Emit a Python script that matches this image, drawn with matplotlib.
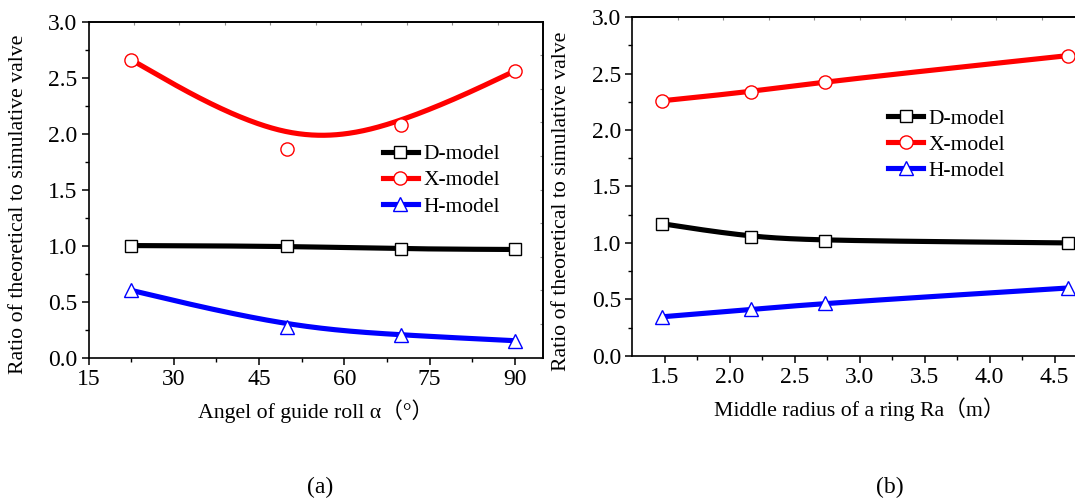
import numpy as np
import matplotlib
matplotlib.use("Agg")
import matplotlib.pyplot as plt
from matplotlib.lines import Line2D

# ---- data -------------------------------------------------------------
angle = [22.5, 50, 70, 90]
angle_d = [1.00, 0.995, 0.97, 0.965]
angle_x = [2.66, 1.86, 2.08, 2.56]
angle_h = [0.60, 0.27, 0.20, 0.15]

radius = [1.48, 2.16, 2.73, 4.60]
radius_d = [1.17, 1.05, 1.02, 1.00]
radius_x = [2.26, 2.34, 2.43, 2.66]
radius_h = [0.345, 0.41, 0.465, 0.60]

model_names = ["D-model", "X-model", "H-model"]
yticks = [0.0, 0.5, 1.0, 1.5, 2.0, 2.5, 3.0]
angle_ticks = [15, 30, 45, 60, 75, 90]
radius_ticks = [1.5, 2.0, 2.5, 3.0, 3.5, 4.0, 4.5]

SERIF = ["Liberation Serif", "Noto Sans CJK SC", "DejaVu Sans"]
plt.rcParams["font.family"] = SERIF

styles = [
    dict(color="black", marker="s", ms=8.5),
    dict(color="#ff0000", marker="o", ms=9.5),
    dict(color="#0000ff", marker="^", ms=10.5),
]

# uniform cubic B-spline basis matrix
M_BS = np.array([[-1, 3, -3, 1],
                 [3, -6, 3, 0],
                 [-3, 0, 3, 0],
                 [1, 4, 1, 0]]) / 6.0


def bspline_curve(xs, ys, per_seg=80):
    """Uniform cubic B-spline with the data points as control points;
    end points are tripled so the curve starts and ends on them."""
    P = np.column_stack([xs, ys]).astype(float)
    P = np.vstack([P[:1], P[:1], P, P[-1:], P[-1:]])
    s = np.linspace(0, 1, per_seg)
    T = np.column_stack([s ** 3, s ** 2, s, np.ones_like(s)])
    pieces = [T @ M_BS @ P[i:i + 4] for i in range(len(P) - 3)]
    C = np.vstack(pieces)
    return C[:, 0], C[:, 1]


def draw_panel(ax, xs, series, xlim, xticks, xminor, xlabel, legend_anchor):
    handles = []
    for ys, st, name in zip(series, styles, model_names):
        cx, cy = bspline_curve(xs, ys)
        ax.plot(cx, cy, color=st["color"], lw=3.7, solid_capstyle="butt", zorder=2)
        ax.plot(xs, ys, linestyle="none", marker=st["marker"], ms=st["ms"],
                mfc="white", mec=st["color"], mew=1.0, zorder=3, clip_on=False)
        handles.append(Line2D([], [], color=st["color"], lw=3.7,
                              marker=st["marker"], ms=st["ms"], mfc="white",
                              mec=st["color"], mew=1.0))

    ax.set_xlim(*xlim)
    ax.set_ylim(0, 3.0)
    ax.set_xticks(xticks)
    ax.set_xticks(xminor, minor=True)
    ax.set_yticks(yticks)
    ax.set_yticks(np.arange(0.25, 3.0, 0.5), minor=True)
    ax.yaxis.set_major_formatter(matplotlib.ticker.FormatStrFormatter("%.1f"))
    if isinstance(xticks[0], float):
        ax.xaxis.set_major_formatter(matplotlib.ticker.FormatStrFormatter("%.1f"))

    ax.tick_params(which="major", direction="out", length=5, width=1.1,
                   labelsize=17, pad=3)
    ax.tick_params(which="minor", direction="out", length=3, width=1.0)
    for sp in ax.spines.values():
        sp.set_linewidth(1.2)

    # faint ten-division ticks on the top and right frame
    top = ax.secondary_xaxis("top")
    top.set_xticks(np.linspace(xlim[0], xlim[1], 11))
    top.tick_params(direction="in", length=2, width=0.8, color="0.55",
                    labeltop=False)
    top.spines["top"].set_linewidth(1.2)
    right = ax.secondary_yaxis("right")
    right.set_yticks(np.linspace(0, 3.0, 11))
    right.tick_params(direction="in", length=2, width=0.8, color="0.55",
                      labelright=False)
    right.spines["right"].set_linewidth(1.2)

    ax.set_ylabel("Ratio of theoretical to simulative valve", fontsize=15.7)
    ax.yaxis.set_label_coords(-0.155, 0.456)
    ax.yaxis.label.set_va("center")
    ax.set_xlabel(xlabel, fontsize=15.7)
    ax.xaxis.set_label_coords(0.5, -0.159)
    ax.xaxis.label.set_va("center")

    ax.legend(handles, model_names, loc="upper left",
              bbox_to_anchor=legend_anchor, frameon=False, fontsize=15.5,
              handlelength=1.6, handletextpad=0.25, labelspacing=0.28,
              borderpad=0, borderaxespad=0)


fig = plt.figure(figsize=(10.75, 4.99), dpi=100)
W, H = 1075, 499

ax1 = fig.add_axes([88.5 / W, (H - 357.5) / H, 454.8 / W, 335.8 / H])
draw_panel(ax1, angle, [angle_d, angle_x, angle_h], (15, 95), angle_ticks,
           np.arange(22.5, 95, 15),
           "Angel of guide roll α（°）", (0.648, 0.635))

ax2 = fig.add_axes([632.3 / W, (H - 355.7) / H, 454.7 / W, 338.4 / H])
draw_panel(ax2, radius, [radius_d, radius_x, radius_h], (1.25, 4.75), radius_ticks,
           np.arange(1.75, 4.75, 0.5),
           "Middle radius of a ring Ra（m）", (0.563, 0.73))

fig.text(320 / W, 1 - 487 / H, "(a)", fontsize=17, ha="center", va="center")
fig.text(890 / W, 1 - 487 / H, "(b)", fontsize=17, ha="center", va="center")

fig.savefig("out.png", dpi=100)
